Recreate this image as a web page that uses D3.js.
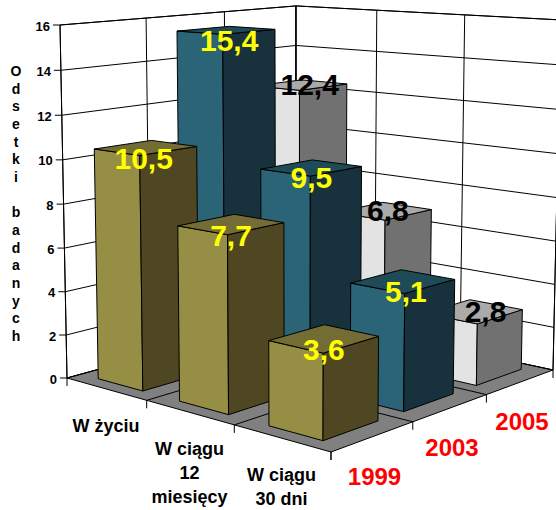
<!DOCTYPE html>
<html>
	<head>
		<meta charset="utf-8">
		<style>
			body{
				margin:0;
				background-color:#fff;
			}
			text{
				font-family:"Liberation Sans",Arial,sans-serif;
				font-weight:bold;
			}
		</style>
		<script src="https://cdn.jsdelivr.net/npm/d3@7"></script>
	</head>
	<body>
		<svg id="chart" width="556" height="510"></svg>
<script>
		var categories = [["W życiu"],["W ciągu","12","miesięcy"],["W ciągu","30 dni"]];
		var years = ["1999","2003","2005"];
		var values1999 = [10.5,7.7,3.6];
		var values2003 = [15.4,9.5,5.1];
		var values2005 = [12.4,6.8,2.8];
		var seriesValues = [values1999,values2003,values2005];
		var yTitle = "Odsetki badanych";

		var width = 556, height = 510;

		// floor corners and where the verticals meet
		var floor = [[67,378],[331,452],[553,370],[296,315]];
		var wallTop = 25, vanish = [297,12000];

		var faces = {
			"1999":{front:"#978e45",side:"#4f4722",top:"#746c35",label:"#ffff00",dx:[-2,0,0],dy:11},
			"2003":{front:"#2b6377",side:"#17323c",top:"#1f4a58",label:"#ffff00",dx:[3,0,3],dy:10},
			"2005":{front:"#e3e3e3",side:"#717171",top:"#aaaaaa",label:"#000",dx:[9,4,12],dy:0}
		};

		var catKeys = categories.map(function(d){return d.join(" ");});
		var uScale = d3.scaleBand().domain(catKeys).range([0,1]).paddingInner(0.44).paddingOuter(0.22);
		var vScale = d3.scaleBand().domain(years).range([0,1]).paddingInner(0.33).paddingOuter(0.165);
		var zScale = d3.scaleLinear().domain([0,16]).range([0,1]);

		var svg = d3.select("#chart");
		var project = makeProjection(floor,wallTop,vanish);
		var line = d3.line();

		function makeProjection(q,topY,vp){
			var dx1=q[1][0]-q[2][0],dx2=q[3][0]-q[2][0],sx=q[0][0]-q[1][0]+q[2][0]-q[3][0];
			var dy1=q[1][1]-q[2][1],dy2=q[3][1]-q[2][1],sy=q[0][1]-q[1][1]+q[2][1]-q[3][1];
			var den=dx1*dy2-dx2*dy1;
			var g=(sx*dy2-dx2*sy)/den,h=(dx1*sy-sx*dy1)/den;
			var a=q[1][0]-q[0][0]+g*q[1][0],b=q[3][0]-q[0][0]+h*q[3][0],c=q[0][0];
			var d=q[1][1]-q[0][1]+g*q[1][1],e=q[3][1]-q[0][1]+h*q[3][1],f=q[0][1];
			var k=-(q[0][1]-topY)/(vp[1]-topY);
			return function(u,v,val){
				var t=zScale(val||0)*k;
				var w=g*u+h*v+1+t;
				return [(a*u+b*v+c+t*vp[0])/w,(d*u+e*v+f+t*vp[1])/w];
			};
		}
		function poly(points,fill,parent){
			return (parent||svg).append("path")
				.attr("d",line(points)+"Z")
				.attr("fill",fill)
				.attr("stroke","#000")
				.attr("stroke-width",1)
				.attr("stroke-linejoin","round");
		}
		function seg(a,b){
			svg.append("path").attr("d",line([a,b])).attr("stroke","#000").attr("stroke-width",1).attr("fill","none");
		}

		// walls and floor
		poly([project(0,0),project(0,1),project(0,1,16),project(0,0,16)],"#fff");
		poly([project(0,1),project(1,1),project(1,1,16),project(0,1,16)],"#fff");
		poly([project(0,0),project(1,0),project(1,1),project(0,1)],"#808080");

		var yTicks = zScale.ticks(8);
		yTicks.forEach(function(t){
			seg(project(0,0,t),project(0,1,t));
			seg(project(0,1,t),project(1,1,t));
			var p=project(0,0,t);
			seg([p[0]-7,p[1]],p);
			svg.append("text")
				.attr("x",p[0]-10).attr("y",p[1]+1)
				.attr("dy",".35em")
				.attr("text-anchor","end")
				.attr("font-size",13)
				.text(d3.format("d")(t));
		});
		d3.range(4).forEach(function(i){
			var s=i*uScale.step();
			var r=i*vScale.step();
			if(i>0&&i<3){
				seg(project(s,0),project(s,1));
				seg(project(0,r),project(1,r));
			}
			seg(project(s,1),project(s,1,16));
			seg(project(0,r),project(0,r,16));
			// ticks under the floor
			var pu=project(s,0),pv=project(1,r);
			seg(pu,[pu[0],pu[1]+8]);
			seg(pv,[pv[0],pv[1]+8]);
		});

		// bars, back ones first
		var bars=[];
		years.forEach(function(y,j){
			catKeys.forEach(function(c,i){
				bars.push({year:y,cat:c,val:seriesValues[j][i],i:i,j:j});
			});
		});
		bars.sort(function(a,b){return (b.j-a.j)||(a.i-b.i);});

		bars.forEach(function(b){
			var u0=uScale(b.cat),u1=u0+uScale.bandwidth();
			var v0=vScale(b.year),v1=v0+vScale.bandwidth();
			var col=faces[b.year];
			poly([project(u0,v0),project(u1,v0),project(u1,v0,b.val),project(u0,v0,b.val)],col.front);
			poly([project(u1,v0),project(u1,v1),project(u1,v1,b.val),project(u1,v0,b.val)],col.side);
			poly([project(u0,v0,b.val),project(u1,v0,b.val),project(u1,v1,b.val),project(u0,v1,b.val)],col.top);
		});

		// value labels go over every bar
		bars.forEach(function(b){
			var p=project(uScale(b.cat)+uScale.bandwidth()/2,vScale(b.year)+vScale.bandwidth()/2,b.val);
			svg.append("text")
				.attr("x",p[0]+faces[b.year].dx[b.i]).attr("y",p[1]+faces[b.year].dy)
				.attr("dy",".35em")
				.attr("text-anchor","middle")
				.attr("font-size",30)
				.attr("fill",faces[b.year].label)
				.text(d3.format(".1f")(b.val).replace(".",","));
		});

		// category labels
		categories.forEach(function(lines,i){
			var p=project((i+0.5)*uScale.step(),0);
			lines.forEach(function(l,n){
				svg.append("text")
					.attr("x",p[0]).attr("y",p[1]+36.5+n*24)
					.attr("dy",".35em")
					.attr("text-anchor","middle")
					.attr("font-size",18)
					.text(l);
			});
		});

		// year labels
		years.forEach(function(y,j){
			var p=project(1,(j+0.5)*vScale.step());
			svg.append("text")
				.attr("x",p[0]+1.5).attr("y",p[1]+40)
				.attr("dy",".35em")
				.attr("text-anchor","middle")
				.attr("font-size",24)
				.attr("fill","#ff0000")
				.text(y);
		});

		// axis title, one letter under another
		var letters=yTitle.split("");
		var titleY=d3.scalePoint().domain(d3.range(letters.length)).range([71,336]);
		svg.selectAll("text.title").data(letters).enter().append("text")
			.attr("class","title")
			.attr("x",16)
			.attr("y",function(d,i){return titleY(i);})
			.attr("dy",".35em")
			.attr("text-anchor","middle")
			.attr("font-size",14)
			.text(function(d){return d;});
</script>
	</body>
</html>
